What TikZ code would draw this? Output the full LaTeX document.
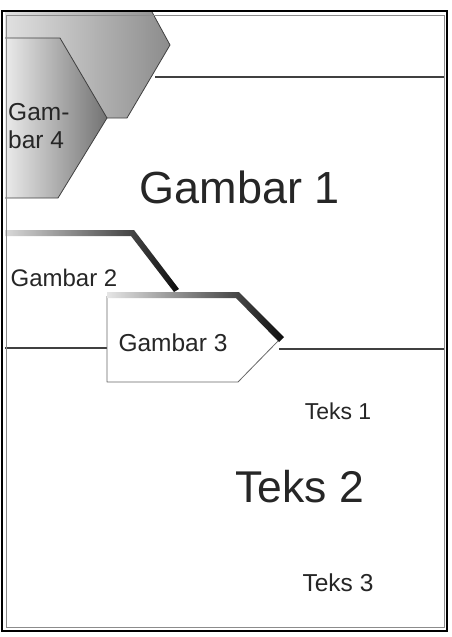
\documentclass[tikz,border=0pt]{standalone}
\usepackage{fontspec}
\setmainfont{Liberation Sans}
\begin{document}
\begin{tikzpicture}[x=1pt,y=-1pt,
  txt/.style={text=black!85,inner sep=0pt,font=#1},
  edge/.style={draw=black!75,line width=0.8pt,line join=round},
  rule/.style={draw=black!75,line width=1.2pt}]
\useasboundingbox (0,0) rectangle (451,637);
\fill[white] (0,0) rectangle (451,637);

% upper grey banner (behind Gambar 4)
\shade[left color=black!12,right color=black!45]
  (5,12) -- (152,12) -- (170,45) -- (127,118) -- (5,118) -- cycle;
\draw[edge] (152,12) -- (170,45) -- (127,118) -- (107,118);

% Gambar 4 tab
\shade[left color=black!8,right color=black!55]
  (5,38) -- (60,38) -- (107,118) -- (58,198) -- (5,198) -- cycle;
\draw[edge] (5,38) -- (60,38) -- (107,118) -- (58,198) -- (5,198);

% header rule
\draw[rule] (155,77) -- (445,77);

% Gambar 2 tab with its dark top edge
\fill[white] (5,233) -- (133,233) -- (177,290) -- (177,348) -- (5,348) -- cycle;
\shade[left color=black!15,right color=black!95]
  (5,230) -- (134,230) -- (179,289) -- (174,292) -- (131,236) -- (5,236) -- cycle;

% section rule
\draw[rule] (5,348) -- (107,348);
\draw[rule] (279,349) -- (445,349);

% Gambar 3 tab with its dark top edge
\fill[white] (107,296) -- (238,296) -- (280,339) -- (238,382) -- (107,382) -- cycle;
\draw[edge,draw=black!60] (280,339) -- (238,382) -- (107,382) -- (107,296);
\shade[left color=black!10,right color=black!95]
  (107,292) -- (239,292) -- (284,337) -- (279,342) -- (236,298) -- (107,298) -- cycle;

% frame
\draw[black!45,line width=1pt] (6,15) rectangle (444,627);
\draw[black,line width=1.5pt] (2,11) rectangle (447,631);

% labels
\node[txt=\fontsize{24.5}{28}\selectfont,align=left,anchor=west] (g4) at (8,126) {Gam-\\bar 4};
\node[txt=\fontsize{45}{50}\selectfont] (g1) at (240,187) {Gambar 1};
\node[txt=\fontsize{24}{28}\selectfont] (g2) at (64,278) {Gambar 2};
\node[txt=\fontsize{24.5}{28}\selectfont] (g3) at (173,343) {Gambar 3};
\node[txt=\fontsize{23}{26}\selectfont] (t1) at (338,411) {Teks 1};
\node[txt=\fontsize{44.5}{48}\selectfont] (t2) at (300,487) {Teks 2};
\node[txt=\fontsize{24.5}{27}\selectfont] (t3) at (338,583) {Teks 3};
\end{tikzpicture}
\end{document}
